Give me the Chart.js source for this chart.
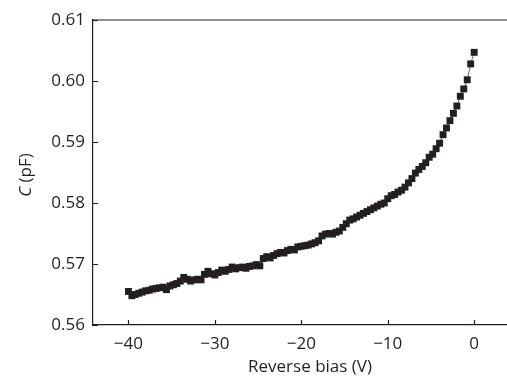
<!DOCTYPE html>
<html>
<head>
<meta charset="utf-8">
<script src="https://cdn.jsdelivr.net/npm/chart.js@4"></script>
<style>
  html, body { margin: 0; padding: 0; background: #fff; }
  #wrap { width: 507px; height: 379px; }
</style>
</head>
<body>
<div id="wrap"><canvas id="chart" width="507" height="379"></canvas></div>
<script>
// reverse bias (V)
const bias = [
  -40.0, -39.6, -39.2, -38.8, -38.4, -38.0, -37.6, -37.2, -36.8, -36.4,
  -36.0, -35.6, -35.2, -34.8, -34.4, -34.0, -33.6, -33.2, -32.8, -32.4,
  -32.0, -31.6, -31.2, -30.8, -30.4, -30.0, -29.6, -29.2, -28.8, -28.4,
  -28.0, -27.6, -27.2, -26.8, -26.4, -26.0, -25.6, -25.2, -24.8, -24.4,
  -24.0, -23.6, -23.2, -22.8, -22.4, -22.0, -21.6, -21.2, -20.8, -20.4,
  -20.0, -19.6, -19.2, -18.8, -18.4, -18.0, -17.6, -17.2, -16.8, -16.4,
  -16.0, -15.6, -15.2, -14.8, -14.4, -14.0, -13.6, -13.2, -12.8, -12.4,
  -12.0, -11.6, -11.2, -10.8, -10.4, -10.0, -9.6, -9.2, -8.8, -8.4,
  -8.0, -7.6, -7.2, -6.8, -6.4, -6.0, -5.6, -5.2, -4.8, -4.4,
  -4.0, -3.6, -3.2, -2.8, -2.4, -2.0, -1.6, -1.2, -0.8, -0.4,
  0.0
];
// capacitance (pF)
const capacitance = [
  0.5655, 0.5648, 0.5650, 0.5652, 0.5654, 0.5656, 0.5657, 0.5659, 0.5660, 0.5661,
  0.5662, 0.5658, 0.5664, 0.5666, 0.5668, 0.5672, 0.5678, 0.5675, 0.5672, 0.5674,
  0.5675, 0.5674, 0.5683, 0.5688, 0.5684, 0.5682, 0.5686, 0.5690, 0.5688, 0.5691,
  0.5695, 0.5692, 0.5694, 0.5695, 0.5693, 0.5696, 0.5697, 0.5699, 0.5697, 0.5709,
  0.5712, 0.5710, 0.5714, 0.5717, 0.5719, 0.5718, 0.5722, 0.5724, 0.5723, 0.5728,
  0.5729, 0.5730, 0.5731, 0.5733, 0.5735, 0.5738, 0.5746, 0.5749, 0.5750, 0.5749,
  0.5752, 0.5754, 0.5760, 0.5766, 0.5772, 0.5774, 0.5777, 0.5780, 0.5783, 0.5786,
  0.5789, 0.5792, 0.5795, 0.5798, 0.5800, 0.5807, 0.5812, 0.5814, 0.5818, 0.5821,
  0.5826, 0.5833, 0.5840, 0.5849, 0.5855, 0.5860, 0.5866, 0.5875, 0.5880, 0.5889,
  0.5898, 0.5912, 0.5923, 0.5935, 0.5947, 0.5959, 0.5975, 0.5987, 0.6002, 0.6028,
  0.6047
];
const xTicks = [-40, -30, -20, -10, 0];
const yTicks = [0.56, 0.57, 0.58, 0.59, 0.60, 0.61];
const xTitle = 'Reverse bias (V)';

const ink = '#231f20';
const fontFam = '"Open Sans", "Noto Sans", sans-serif';

// inward ticks, top border, axis titles
const frame = {
  id: 'frame',
  afterDraw(chart) {
    const ctx = chart.ctx;
    const a = chart.chartArea;
    const xs = chart.scales.x, ys = chart.scales.y;
    ctx.save();
    ctx.strokeStyle = ink;
    ctx.lineWidth = 1.2;
    ctx.beginPath();
    ctx.moveTo(a.left, a.top);
    ctx.lineTo(a.right, a.top);
    xTicks.forEach(v => {
      const px = Math.round(xs.getPixelForValue(v)) + 0.5;
      ctx.moveTo(px, a.bottom);
      ctx.lineTo(px, a.bottom - 5);
    });
    yTicks.forEach(v => {
      const py = Math.round(ys.getPixelForValue(v)) + 0.5;
      ctx.moveTo(a.left, py);
      ctx.lineTo(a.left + 5, py);
    });
    ctx.stroke();

    ctx.fillStyle = ink;
    ctx.textBaseline = 'middle';
    ctx.textAlign = 'center';
    ctx.font = '17px ' + fontFam;
    ctx.fillText(xTitle, 310, 367);

    // y title with italic C
    ctx.translate(26, 175);
    ctx.rotate(-Math.PI / 2);
    const italic = 'italic 17px ' + fontFam;
    const normal = '17px ' + fontFam;
    ctx.font = italic;
    const w1 = ctx.measureText('C').width;
    ctx.font = normal;
    const w2 = ctx.measureText(' (pF)').width;
    ctx.textAlign = 'left';
    ctx.font = italic;
    ctx.fillText('C', -(w1 + w2) / 2, 0);
    ctx.font = normal;
    ctx.fillText(' (pF)', -(w1 + w2) / 2 + w1, 0);
    ctx.restore();
  }
};

new Chart(document.getElementById('chart'), {
  type: 'scatter',
  data: {
    datasets: [{
      data: bias.map((v, i) => ({ x: v, y: capacitance[i] })),
      showLine: true,
      borderColor: '#444',
      borderWidth: 0.8,
      pointStyle: 'rect',
      pointRadius: 4.9,
      pointBackgroundColor: ink,
      pointBorderWidth: 0
    }]
  },
  options: {
    responsive: false,
    animation: false,
    layout: { autoPadding: false, padding: { top: 20, right: 0, left: 0, bottom: 0 } },
    plugins: { legend: { display: false }, tooltip: { enabled: false } },
    scales: {
      x: {
        type: 'linear',
        min: -44.1,
        max: 3.8,
        afterBuildTicks: s => { s.ticks = xTicks.map(v => ({ value: v })); },
        afterFit: s => { s.height = 54; s.paddingLeft = 0; s.paddingRight = 0; },
        grid: { drawOnChartArea: false, drawTicks: false },
        border: { display: true, color: ink, width: 1.2 },
        ticks: {
          color: ink,
          padding: 9,
          font: { family: fontFam, size: 17 },
          callback: v => String(v).replace('-', '\u2212')
        }
      },
      y: {
        type: 'linear',
        min: 0.56,
        max: 0.61,
        afterBuildTicks: s => { s.ticks = yTicks.map(v => ({ value: v })); },
        afterFit: s => { s.width = 93; s.paddingTop = 0; s.paddingBottom = 0; },
        grid: { drawOnChartArea: false, drawTicks: false },
        border: { display: true, color: ink, width: 1.2 },
        ticks: {
          color: ink,
          padding: 8,
          font: { family: fontFam, size: 17 },
          callback: v => v.toFixed(2)
        }
      }
    }
  },
  plugins: [frame]
});
</script>
</body>
</html>
